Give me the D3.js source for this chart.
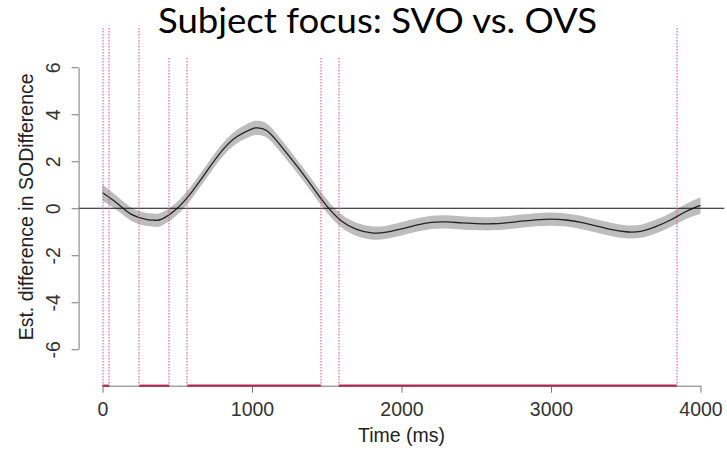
<!DOCTYPE html>
<html>
<head>
<meta charset="utf-8">
<script src="https://cdn.jsdelivr.net/npm/d3@7"></script>
<style>
  body { margin: 0; background: #fff; }
  svg { display: block; }
  .axis text { font-family: "Liberation Sans", Arial, sans-serif; font-size: 19.5px; fill: #333; }
  .axis path, .axis line { stroke: #777; }
</style>
</head>
<body>
<svg id="chart" width="727" height="453"></svg>
<script>
// smooth estimate (difference curve)
const times = [0, 100, 200, 300, 350, 400, 500, 600, 700, 800, 900, 1000, 1030, 1100, 1200, 1300, 1400, 1500,
  1600, 1700, 1800, 1900, 2000, 2100, 2200, 2300, 2400, 2500, 2600, 2700, 2800, 2900, 3000, 3100,
  3200, 3300, 3400, 3500, 3600, 3700, 3800, 3900, 4000];
const estimate = [0.66, 0.2, -0.28, -0.48, -0.51, -0.45, 0.0, 0.72, 1.6, 2.45, 3.05, 3.38, 3.42, 3.3, 2.6, 1.8, 0.95, 0.1,
  -0.55, -0.9, -1.05, -1.02, -0.88, -0.72, -0.6, -0.58, -0.62, -0.65, -0.66, -0.62, -0.55, -0.49, -0.46, -0.5,
  -0.6, -0.75, -0.9, -1.0, -0.98, -0.78, -0.5, -0.15, 0.12];
const ciHalf = [0.34, 0.3, 0.28, 0.28, 0.28, 0.28, 0.28, 0.28, 0.28, 0.28, 0.29, 0.3, 0.3, 0.3, 0.29, 0.28, 0.28, 0.28,
  0.28, 0.28, 0.28, 0.28, 0.28, 0.28, 0.28, 0.28, 0.28, 0.28, 0.28, 0.28, 0.28, 0.28, 0.28, 0.28,
  0.28, 0.28, 0.28, 0.28, 0.28, 0.29, 0.3, 0.32, 0.35];

// time windows where the difference is significant
const sigStart = [0, 247, 568, 1580];
const sigEnd = [44, 446, 1460, 3841];

const xTicks = [0, 1000, 2000, 3000, 4000];
const yTicks = [-6, -4, -2, 0, 2, 4, 6];
const xLim = [-160, 4160];
const yLim = [-7.55, 7.67];

const titleText = 'Subject focus: SVO vs. OVS';
const xLabel = 'Time (ms)';
const yLabel = 'Est. difference in SODifference';

const svg = d3.select('#chart');

let xScale = d3.scaleLinear().domain(xLim).range([78.6, 724.4]);
let yScale = d3.scaleLinear().domain(yLim).range([385.7, 28]);

let data = times.map((t, i) => ({ t: t, est: estimate[i], ci: ciHalf[i] }));

// confidence band
let area = d3.area()
  .x((d) => xScale(d.t))
  .y0((d) => yScale(d.est - d.ci))
  .y1((d) => yScale(d.est + d.ci))
  .curve(d3.curveNatural);

svg.append('path')
  .datum(data)
  .attr('d', area)
  .attr('fill', '#bdbdbd');

let line = d3.line()
  .x((d) => xScale(d.t))
  .y((d) => yScale(d.est))
  .curve(d3.curveNatural);

svg.append('path')
  .datum(data)
  .attr('d', line)
  .attr('fill', 'none')
  .attr('stroke', '#222')
  .attr('stroke-width', 1.3);

// zero line
svg.append('line')
  .attr('x1', xScale(xLim[0]))
  .attr('x2', xScale(xLim[1]))
  .attr('y1', yScale(0))
  .attr('y2', yScale(0))
  .attr('stroke', '#111')
  .attr('stroke-width', 1);

// dotted lines at the edges of the significant windows
let edges = sigStart.concat(sigEnd);
svg.selectAll('line.edge')
  .data(edges)
  .enter()
  .append('line')
  .attr('class', 'edge')
  .attr('x1', (d) => Math.round(xScale(d)))
  .attr('x2', (d) => Math.round(xScale(d)))
  .attr('y1', yScale(yLim[1]))
  .attr('y2', yScale(yLim[0]))
  .attr('stroke', '#e0457a')
  .attr('stroke-width', 1.6)
  .attr('stroke-opacity', 0.6)
  .attr('stroke-dasharray', '1.5,1.5');

// AXES
let xAxisScale = d3.scaleLinear().domain([0, 4000]).range([xScale(0), xScale(4000)]);
let yAxisScale = d3.scaleLinear().domain([-6, 6]).range([yScale(-6), yScale(6)]);

// plain hyphen for negatives, as R prints them
let plain = (d) => String(d);

let xAxis = d3.axisBottom(xAxisScale).tickValues(xTicks).tickFormat(plain)
  .tickSizeOuter(0).tickSizeInner(7).tickPadding(4);
let yAxis = d3.axisLeft(yAxisScale).tickValues(yTicks).tickFormat(plain)
  .tickSizeOuter(0).tickSizeInner(7).tickPadding(4);

let xAxisGroup = svg.append('g')
  .attr('class', 'axis')
  .attr('transform', `translate(0, ${yScale(yLim[0])})`)
  .call(xAxis);
xAxisGroup.selectAll('text').attr('dy', '0.98em');

let yAxisGroup = svg.append('g')
  .attr('class', 'axis')
  .attr('transform', `translate(${xScale(xLim[0])}, 0)`)
  .call(yAxis);
// R style: labels run parallel to the axis
yAxisGroup.selectAll('text')
  .attr('text-anchor', 'middle')
  .attr('x', 0)
  .attr('y', 0)
  .attr('dy', 0)
  .attr('transform', 'translate(-19, 0) rotate(-90)');

// significant windows along the bottom
svg.selectAll('line.sig')
  .data(sigStart)
  .enter()
  .append('line')
  .attr('class', 'sig')
  .attr('x1', (d) => xScale(d))
  .attr('x2', (d, i) => xScale(sigEnd[i]))
  .attr('y1', yScale(yLim[0]))
  .attr('y2', yScale(yLim[0]))
  .attr('stroke', '#b02a58')
  .attr('stroke-width', 2.2);

// axis titles
svg.append('text')
  .attr('x', xScale(2000))
  .attr('y', 442)
  .attr('text-anchor', 'middle')
  .style('font-family', '"Liberation Sans", Arial, sans-serif')
  .style('font-size', '19.5px')
  .attr('fill', '#222')
  .text(xLabel);

svg.append('text')
  .attr('transform', `translate(33, ${(yScale(yLim[0]) + yScale(yLim[1])) / 2}) rotate(-90)`)
  .attr('text-anchor', 'middle')
  .style('font-family', '"Liberation Sans", Arial, sans-serif')
  .style('font-size', '19.5px')
  .attr('fill', '#222')
  .text(yLabel);

// slide title sits on a white box over the plot
svg.append('rect')
  .attr('x', 152)
  .attr('y', 0)
  .attr('width', 455)
  .attr('height', 57)
  .attr('fill', '#fff');

svg.append('text')
  .attr('x', 158)
  .attr('y', 33)
  .attr('textLength', 439)
  .attr('lengthAdjust', 'spacingAndGlyphs')
  .style('font-family', 'Lato, "Open Sans", sans-serif')
  .style('font-size', '35px')
  .attr('fill', '#000')
  .text(titleText);
</script>
</body>
</html>
